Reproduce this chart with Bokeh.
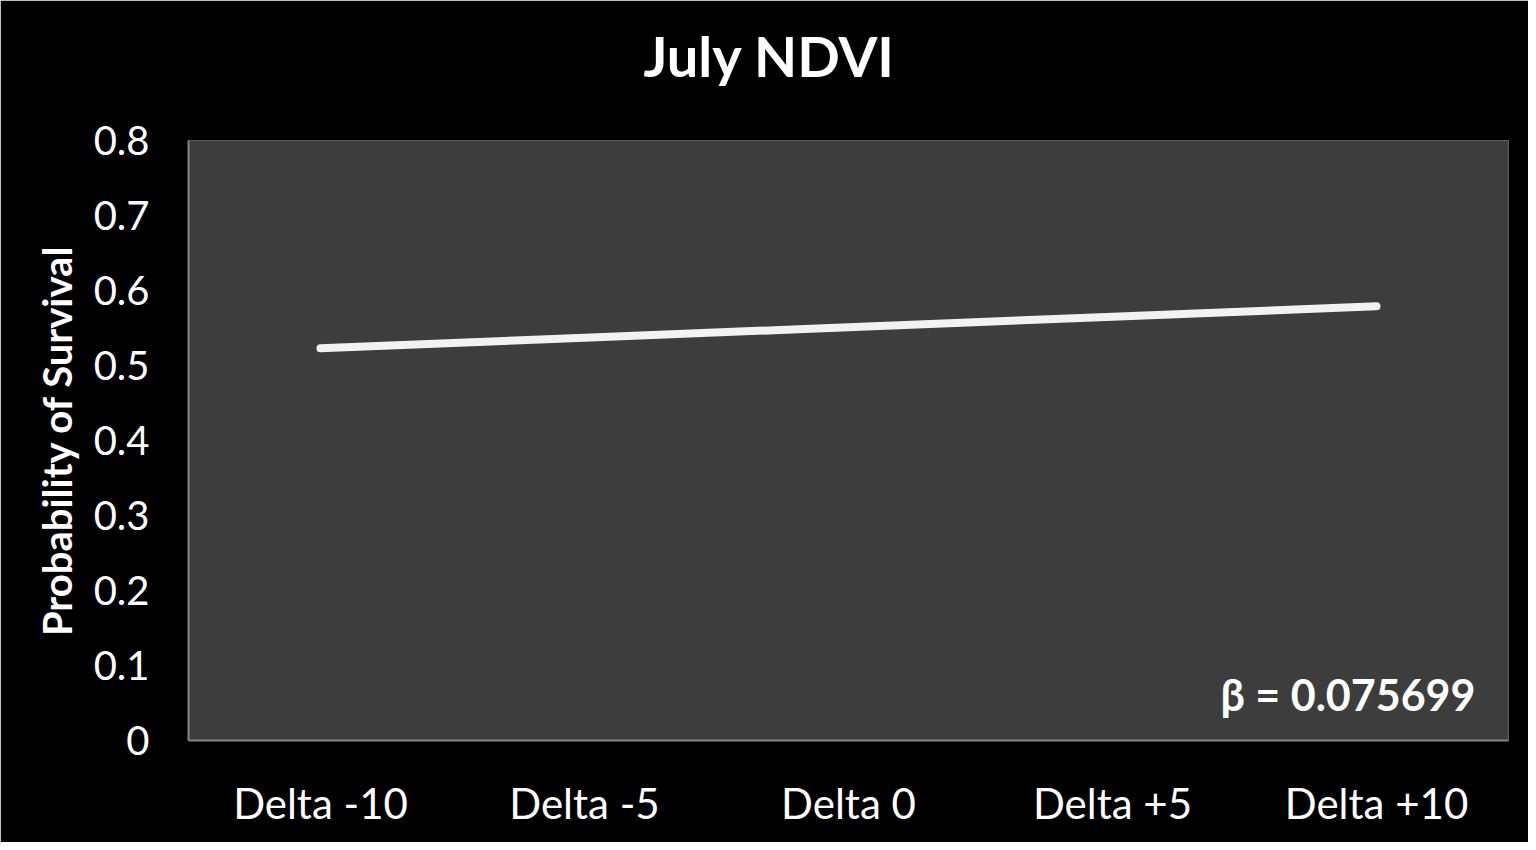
from bokeh.plotting import figure
from bokeh.models import FixedTicker, Label, Title
from bokeh.embed import file_html
from bokeh.resources import INLINE

categories = ["Delta -10", "Delta -5", "Delta 0", "Delta +5", "Delta +10"]
survival = [0.523, 0.537, 0.551, 0.565, 0.579]
y_ticks = [0, 0.1, 0.2, 0.3, 0.4, 0.5, 0.6, 0.7, 0.8]
y_tick_labels = ["0", "0.1", "0.2", "0.3", "0.4", "0.5", "0.6", "0.7", "0.8"]
title_text = "July NDVI"
y_label = "Probability of Survival"
beta_text = "\u03b2 = 0.075699"

FONT = "Lato"

p = figure(width=1528, height=842, x_range=categories, y_range=(0, 0.8),
           output_backend="svg", toolbar_location=None,
           min_border_left=188, min_border_right=20, min_border_top=140, min_border_bottom=102)
p.title = None
spacer = Title(text=" ", text_font_size="2px", text_color="black", standoff=48)
p.add_layout(spacer, "above")
t = Title(text=title_text, align="left", text_font=FONT, text_font_size="56px",
          text_font_style="bold", text_color="white", offset=455, standoff=0)
p.add_layout(t, "above")

p.border_fill_color = "black"
p.background_fill_color = "#3d3d3d"
p.outline_line_color = None
p.grid.visible = False

p.line(categories, survival, line_color="#f2f2f2", line_width=8, line_cap="round")

p.yaxis.ticker = FixedTicker(ticks=y_ticks)
p.yaxis.major_label_overrides = {v: s for v, s in zip(y_ticks, y_tick_labels)}
for ax in (p.xaxis[0], p.yaxis[0]):
    ax.axis_line_color = "#858585"
    ax.axis_line_width = 2
    ax.major_tick_line_color = None
    ax.minor_tick_line_color = None
    ax.major_label_text_color = "white"
    ax.major_label_text_font = FONT
    ax.major_label_text_font_size = "40px"
p.yaxis.major_label_standoff = 33
p.xaxis.major_label_text_font_size = "42px"
p.xaxis.major_label_standoff = 31
p.yaxis.axis_label = y_label
p.yaxis.axis_label_text_font = FONT
p.yaxis.axis_label_text_font_style = "bold"
p.yaxis.axis_label_text_font_size = "40px"
p.yaxis.axis_label_text_color = "white"
p.yaxis.axis_label_standoff = 10

beta = Label(x=4.875, y=0.062, text=beta_text, text_align="right", text_baseline="alphabetic",
             text_font=FONT, text_font_style="bold", text_font_size="43px", text_color="white")
p.add_layout(beta)

open("out.html", "w").write(file_html(p, INLINE))
